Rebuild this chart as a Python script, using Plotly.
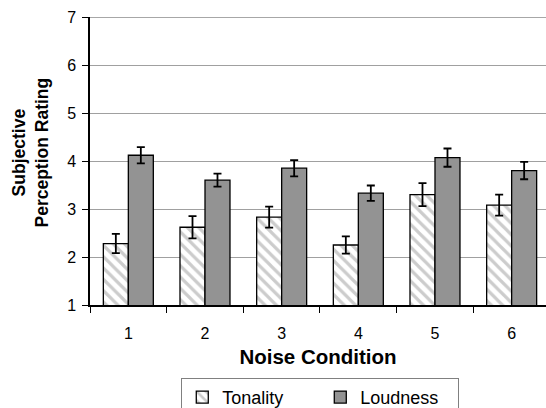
import plotly.graph_objects as go

categories = ["1", "2", "3", "4", "5", "6"]
tonality = [2.28, 2.62, 2.83, 2.25, 3.30, 3.08]
tonality_err = [0.20, 0.23, 0.22, 0.18, 0.24, 0.22]
loudness = [4.12, 3.60, 3.85, 3.33, 4.07, 3.80]
loudness_err = [0.17, 0.135, 0.17, 0.16, 0.19, 0.18]
y_ticks = [1, 2, 3, 4, 5, 6, 7]

FONT = "Arial, Liberation Sans, sans-serif"

fig = go.Figure()
fig.add_trace(go.Bar(
    x=categories, y=tonality, name="Tonality",
    marker=dict(color="white",
                pattern=dict(shape="\\", fgcolor="#9a9a9a", bgcolor="white", size=8, solidity=0.4),
                line=dict(color="black", width=1.3)),
    error_y=dict(type="data", array=tonality_err, color="black", thickness=1.8, width=4),
))
fig.add_trace(go.Bar(
    x=categories, y=loudness, name="Loudness",
    marker=dict(color="#939393", line=dict(color="black", width=1.3)),
    error_y=dict(type="data", array=loudness_err, color="black", thickness=1.8, width=4),
))

fig.update_layout(
    width=546, height=408,
    margin=dict(l=90, r=0, t=17, b=103, autoexpand=False),
    paper_bgcolor="white", plot_bgcolor="white",
    barmode="group", bargap=0.348, bargroupgap=0,
    font=dict(family=FONT, color="black", size=16),
    showlegend=True,
    legend=dict(orientation="h", x=0.505, xanchor="center", y=-0.253, yanchor="top",
                bordercolor="#808080", borderwidth=1, font=dict(size=18, family=FONT),
                entrywidth=93, itemwidth=30, traceorder="normal"),
)
fig.update_xaxes(
    type="category", range=[-0.5, 5.448], tickson="boundaries", automargin=False,
    ticks="outside", ticklen=6, tickcolor="black", tickwidth=1.3,
    showline=True, linecolor="black", linewidth=1.5, ticklabelstandoff=13,
    showgrid=False, tickfont=dict(size=16),
    title=dict(text="<b>Noise Condition</b>", font=dict(size=20.5, family=FONT), standoff=9),
)
fig.update_yaxes(
    range=[1, 7], tickvals=y_ticks, ticktext=[str(v) for v in y_ticks], automargin=False,
    ticks="outside", ticklen=6, tickcolor="black", tickwidth=1.3, ticklabelstandoff=3,
    showline=True, linecolor="black", linewidth=1.5,
    showgrid=True, gridcolor="#a0a0a0", gridwidth=1,
    zeroline=False, tickfont=dict(size=16),
)
fig.add_annotation(
    text="<b>Subjective<br>Perception Rating</b>", textangle=-90,
    xref="paper", yref="paper", x=-0.1294, y=0.5295, xanchor="center", yanchor="middle",
    showarrow=False, font=dict(size=17.5, family=FONT, color="black"),
)
fig.add_hline(y=7, line=dict(color="#8a8a8a", width=1.5))

fig.write_html("out.html", config={"displayModeBar": False},
               post_script="document.body.style.margin='0px';")
